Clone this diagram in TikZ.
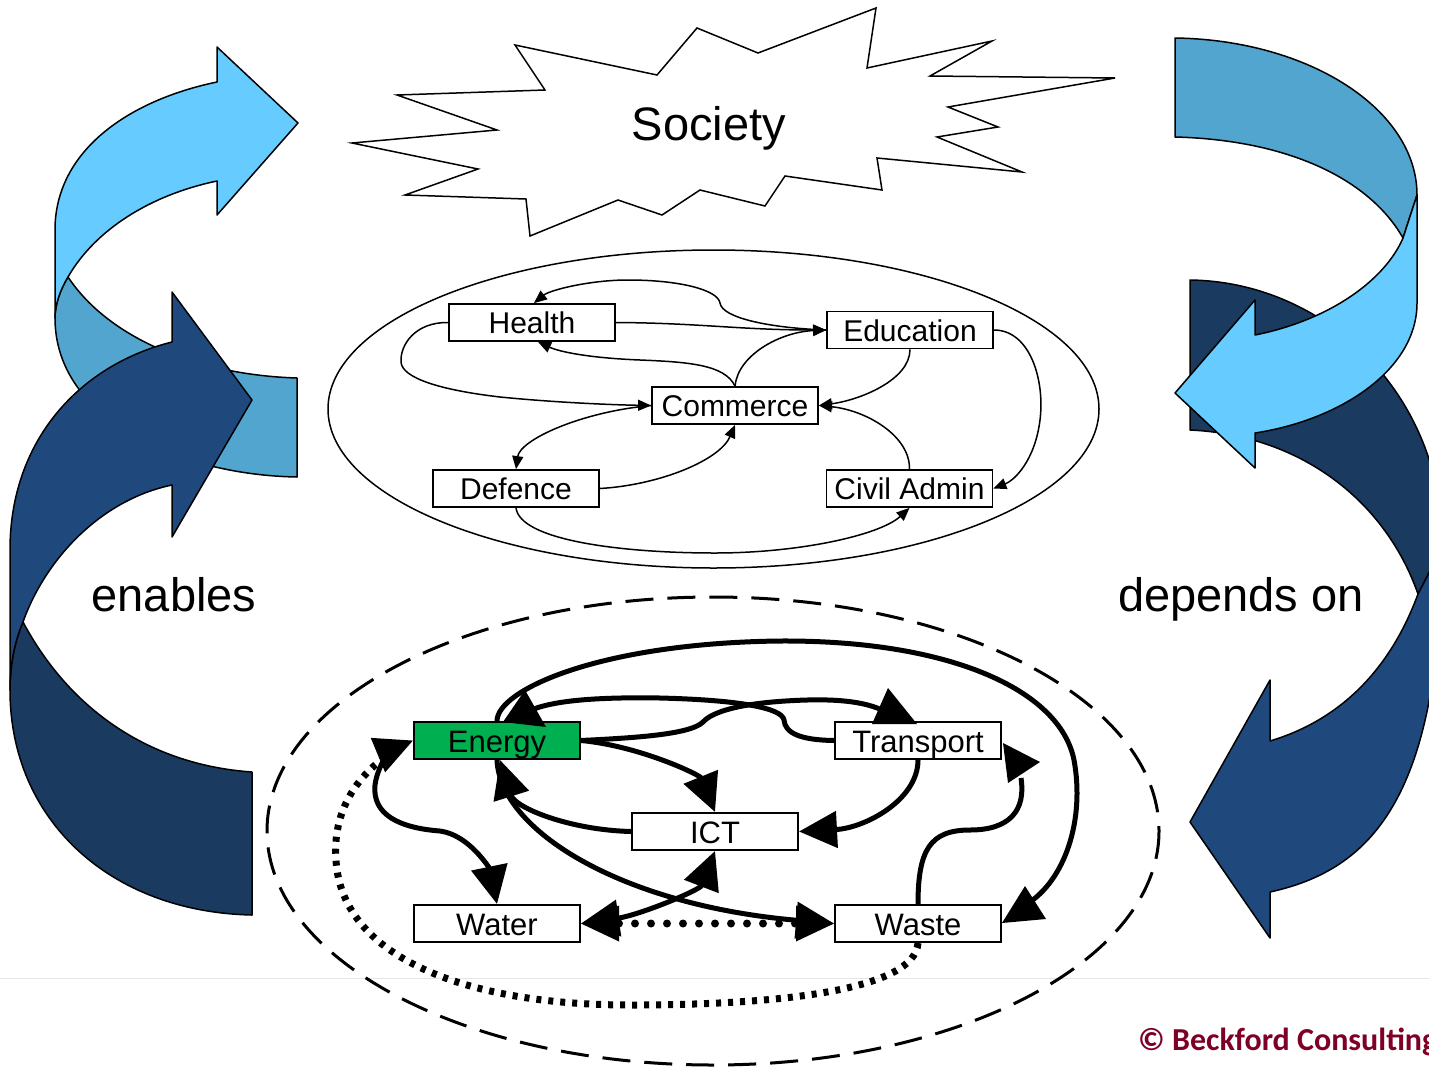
\documentclass[tikz,border=0pt]{standalone}
\usepackage{fontspec}
\setmainfont{Liberation Sans}
\newfontfamily\credfont{Carlito}
\usetikzlibrary{arrows.meta}
\definecolor{lightb}{HTML}{66CCFF}
\definecolor{midb}{HTML}{52A5CE}
\definecolor{darkf}{HTML}{1F497D}
\definecolor{darkb}{HTML}{1B3A60}
\definecolor{engreen}{HTML}{00B050}
\definecolor{credred}{HTML}{7F0026}
\tikzset{
  ribbon/.style={draw=black, line width=1.5pt, line join=round},
  ubox/.style={draw=black, line width=1.8pt, fill=white, minimum width=166pt, minimum height=37pt, inner sep=0pt, text height=26pt, text depth=4pt, font=\fontsize{30}{36}\selectfont},
  lbox/.style={ubox, line width=2pt, text height=27pt, text depth=3pt, font=\fontsize{31}{36}\selectfont},
  uedge/.style={line width=1.5pt, -{Triangle[length=13pt,width=11pt]}},
  lline/.style={line width=5pt},
  ledge/.style={lline, -{Triangle[length=38pt,width=36pt]}},
  ledgeboth/.style={lline, {Triangle[length=38pt,width=36pt]}-{Triangle[length=38pt,width=36pt]}},
  lhead/.style={fill=black},
  bigtext/.style={font=\fontsize{47}{54}\selectfont},
  rounddots/.style={line width=8pt, line cap=round, dash pattern=on 0pt off 16pt},
  squaredots/.style={line width=7pt, dash pattern=on 5pt off 7pt},
}
\begin{document}
\begin{tikzpicture}[x=1pt,y=-1pt]
\useasboundingbox (0,0) rectangle (1429,1071);
\clip (0,0) rectangle (1429,1071);

% faint separator line
\draw[line width=1pt, black!10] (0,978) -- (1429,978);

% ---------- left light ribbon arrow ----------
\path[ribbon, fill=midb] (68,277) .. controls (110,340) and (200,375) .. (297,378) -- (297,477)
  .. controls (180,475) and (55,420) .. (55,318) .. controls (55,305) and (60,290) .. (68,277) -- cycle;
\path[ribbon, fill=lightb] (217,82) -- (217,47) -- (298,123) -- (217,215) -- (217,181)
  .. controls (150,195) and (95,230) .. (68,277) .. controls (60,290) and (55,305) .. (55,318)
  -- (55,230) .. controls (55,150) and (130,100) .. (217,82) -- cycle;

% ---------- left dark ribbon arrow (enables) ----------
\path[ribbon, fill=darkb] (23,622) .. controls (70,710) and (150,765) .. (252,772) -- (252,915)
  .. controls (110,912) and (10,820) .. (10,690) .. controls (10,670) and (13,645) .. (23,622) -- cycle;
\path[ribbon, fill=darkf] (172,342) -- (172,292) -- (252,400) -- (172,537) -- (172,485)
  .. controls (100,500) and (45,560) .. (23,622) .. controls (13,645) and (10,670) .. (10,690)
  -- (10,550) .. controls (10,440) and (80,365) .. (172,342) -- cycle;

% ---------- right dark ribbon arrow (depends on) ----------
\path[ribbon, fill=darkb] (1190,280) .. controls (1330,282) and (1445,400) .. (1442,548) -- (1418,594)
  .. controls (1385,500) and (1300,435) .. (1190,430) -- cycle;
\path[ribbon, fill=darkf] (1418,594) .. controls (1390,670) and (1340,720) .. (1270,741) -- (1270,680)
  -- (1190,822) -- (1270,938) -- (1270,892) .. controls (1370,870) and (1440,800) .. (1442,548) -- cycle;

% ---------- right light ribbon arrow ----------
\path[ribbon, fill=midb] (1175,38) .. controls (1310,40) and (1417,110) .. (1417,195) -- (1403,238)
  .. controls (1370,180) and (1290,140) .. (1175,137) -- cycle;
\path[ribbon, fill=lightb] (1403,238) -- (1417,195) -- (1417,303) .. controls (1417,370) and (1340,420) .. (1255,433)
  -- (1255,468) -- (1175,393) -- (1255,300) -- (1255,335) .. controls (1330,320) and (1385,280) .. (1403,238) -- cycle;

\node[bigtext, anchor=base] (enables) at (174,611) {enables};
\node[bigtext, anchor=base] (depends) at (1241,611) {depends on};

% ---------- Society starburst ----------
\draw[line width=1.5pt, line join=miter, fill=white] (352,143) -- (478,169) -- (405,195) -- (526,199) -- (530,236)
  -- (618,200) -- (662,215) -- (700,190) -- (765,206) -- (785,176) -- (882,190) -- (877,158)
  -- (1022,172) -- (937,137) -- (998,127) -- (948,107) -- (1115,78) -- (930,76) -- (992,41)
  -- (867,68) -- (876,8) -- (758,53) -- (697,28) -- (657,75) -- (515,45) -- (545,90)
  -- (397,95) -- (497,130) -- cycle;
\node[bigtext, anchor=base] (society) at (709,140) {Society};

% ---------- upper graph (society sectors) ----------
\draw[line width=1.5pt] (713.5,409) ellipse [x radius=385.5, y radius=159];
\node[ubox] (hea) at (532,322.5) {Health};
\node[ubox] (edu) at (910,330) {Education};
\node[ubox] (com) at (735,405.5) {Commerce};
\node[ubox] (def) at (516,488.5) {Defence};
\node[ubox] (civ) at (909.5,488.5) {Civil Admin};

\draw[uedge] (edu.west) .. controls (770,328) and (722,318) .. (720,303)
  .. controls (718,290) and (680,280) .. (628,280) .. controls (590,280) and (550,290) .. ([xshift=2pt]hea.north);
\draw[uedge] (hea.east) .. controls (700,323) and (740,330) .. (edu.west);
\draw[uedge] (com.north) .. controls (725,365) and (690,362) .. (640,360) .. controls (590,358) and (560,352) .. ([xshift=6pt]hea.south);
\draw[uedge] (com.north) .. controls (738,355) and (780,332) .. (edu.west);
\draw[uedge] (hea.west) .. controls (415,322) and (400,345) .. (401,362) .. controls (402,378) and (440,390) .. (500,397)
  .. controls (560,403) and (620,405) .. (com.west);
\draw[uedge] (edu.south) .. controls (910,380) and (860,400) .. (com.east);
\draw[uedge] (civ.north) .. controls (910,435) and (865,410) .. (com.east);
\draw[uedge] (edu.east) .. controls (1030,330) and (1045,380) .. (1040,420) .. controls (1035,460) and (1015,480) .. (civ.east);
\draw[uedge] (com.west) .. controls (580,412) and (520,440) .. (def.north);
\draw[uedge] (def.east) .. controls (660,485) and (720,460) .. (com.south);
\draw[uedge] (def.south) .. controls (520,540) and (620,553) .. (715,553) .. controls (800,553) and (880,535) .. (civ.south);

% ---------- lower graph (infrastructure) ----------
\draw[line width=3pt, dash pattern=on 28pt off 14pt] (713,831) ellipse [x radius=446, y radius=234];
\node[lbox, fill=engreen] (ene) at (497,740.5) {Energy};
\node[lbox] (tra) at (918,740.5) {Transport};
\node[lbox] (ict) at (715,831.5) {ICT};
\node[lbox] (wat) at (497,923.5) {Water};
\node[lbox] (was) at (918,923.5) {Waste};

\coordinate (traTop) at (892,716);
\coordinate (eneTop) at (527,712);
\coordinate (traRight) at (1021,778);
\coordinate (wasRight) at (1027,904);
\coordinate (dotEnd) at (392,752);

% dotted loop Waste -> Energy
\draw[squaredots] (was.south) .. controls (915,990) and (780,1005) .. (630,1005)
  .. controls (470,1005) and (350,960) .. (337,870) .. controls (330,820) and (350,780) .. (dotEnd);
% Energy <-> Water
\draw[ledgeboth] (wat.north) .. controls (490,870) and (470,835) .. (440,831) .. controls (400,828) and (372,815) .. (375,785)
  .. controls (378,762) and (395,748) .. (ene.west);
% Water <-> ICT
\draw[ledgeboth] (wat.east) .. controls (640,915) and (700,890) .. (ict.south);
% Water <-> Waste dotted
\draw[rounddots, {Triangle[length=38pt,width=36pt,line width=0pt]}-{Triangle[length=38pt,width=36pt,line width=0pt]}] (wat.east) -- (was.west);
% Energy -> Waste
\draw[ledge] (ene.south) .. controls (500,830) and (620,905) .. (was.west);
% ICT -> Energy
\draw[ledge] (ict.west) .. controls (570,830) and (515,808) .. ([xshift=3pt]ene.south);
% Energy -> ICT
\draw[ledge] (ene.east) .. controls (640,746) and (700,775) .. (ict.north);
% Transport -> ICT
\draw[ledge] (tra.south) .. controls (918,800) and (865,828) .. (ict.east);
% Energy -> Transport (over the top)
\draw[lline] (ene.east) .. controls (630,738) and (690,735) .. (703,722) .. controls (712,712) and (740,702) .. (807,700)
  .. controls (845,699) and (875,703) .. (traTop);
\fill[lhead] (888,688) -- (917,724) -- (872,724) -- cycle;
% Transport -> Energy
\draw[lline] (tra.west) .. controls (800,740) and (785,733) .. (784,720) .. controls (782,708) and (740,700) .. (660,698)
  .. controls (600,697) and (550,700) .. (eneTop);
\fill[lhead] (525,690) -- (546,727) -- (503,722) -- cycle;
% Energy -> Waste big loop
\draw[lline] (ene.north) .. controls (497,690) and (600,643) .. (780,641) .. controls (950,640) and (1060,690) .. (1074,760)
  .. controls (1085,820) and (1065,880) .. (wasRight);
\fill[lhead] (1025,886) -- (1046,919) -- (1002,923) -- cycle;
% Waste -> Transport
\draw[lline] (was.north) .. controls (918,850) and (930,830) .. (970,830) .. controls (1010,830) and (1026,810) .. (traRight);
\fill[lhead] (1003,743) -- (1040,762) -- (1008,783) -- cycle;

% ---------- credit ----------
\node[anchor=base west, inner sep=0pt, text=credred, font=\credfont\bfseries\fontsize{32}{38}\selectfont] (credit) at (1138,1050) {© Beckford Consulting};
\end{tikzpicture}
\end{document}
